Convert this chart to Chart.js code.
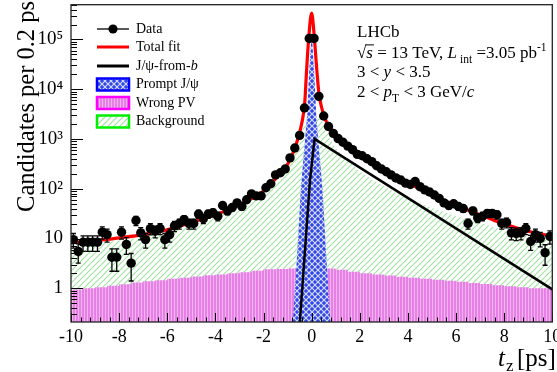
<!DOCTYPE html>
<html><head><meta charset="utf-8">
<script src="https://cdn.jsdelivr.net/npm/chart.js@4.4.1/dist/chart.umd.min.js"></script>
<style>html,body{margin:0;padding:0;background:#fff;}#wrap{width:557px;height:372px;position:relative;}</style>
</head><body><div id="wrap"><canvas id="c"></canvas></div>
<script>
const SERIF = "'Liberation Serif', 'Times New Roman', serif";

// ---- data ----
const binCenters = [-9.9,-9.7,-9.5,-9.3,-9.1,-8.9,-8.7,-8.5,-8.3,-8.1,-7.9,-7.7,-7.5,-7.3,-7.1,-6.9,-6.7,-6.5,-6.3,-6.1,-5.9,-5.7,-5.5,-5.3,-5.1,-4.9,-4.7,-4.5,-4.3,-4.1,-3.9,-3.7,-3.5,-3.3,-3.1,-2.9,-2.7,-2.5,-2.3,-2.1,-1.9,-1.7,-1.5,-1.3,-1.1,-0.9,-0.7,-0.5,-0.3,-0.1,0.1,0.3,0.5,0.7,0.9,1.1,1.3,1.5,1.7,1.9,2.1,2.3,2.5,2.7,2.9,3.1,3.3,3.5,3.7,3.9,4.1,4.3,4.5,4.7,4.9,5.1,5.3,5.5,5.7,5.9,6.1,6.3,6.5,6.7,6.9,7.1,7.3,7.5,7.7,7.9,8.1,8.3,8.5,8.7,8.9,9.1,9.3,9.5,9.7,9.9];
const candidates = [9.5,5.5,8.4,8.4,8.4,8.4,13.4,12,4.2,4.2,13.4,7.6,3.2,23,13,9.5,15.8,14,16,9.5,12,18,20,24,20,20,31,25,31,33,28,46,36,42,52,44,60,79,72,72,105,126,190,210,250,417,660,1180,4200,105000,105000,7200,2900,1780,1300,1020,860,720,610,490,460,400,350,290,250,220,190,165,150,130,122,140,110,95,86,75,64,52,46,50,44,40,20,36,26,28,32,32,30,20,21,13,12.6,13,16,8.7,12,10,5.2,11];
const candidateErrors = [3.1,2.3,2.9,2.9,2.9,2.9,3.7,3.5,2.0,2.0,3.7,2.8,1.8,4.8,3.6,3.1,4.0,3.7,4.0,3.1,3.5,4.2,4.5,4.9,4.5,4.5,5.6,5.0,5.6,5.7,5.3,6.8,6.0,6.5,7.2,6.6,7.7,8.9,8.5,8.5,10,11,14,14,16,20,26,34,65,324,324,85,54,42,36,32,29,27,25,22,21,20,19,17,16,15,14,13,12,11,11,12,10,9.7,9.3,8.7,8.0,7.2,6.8,7.1,6.6,6.3,4.5,6.0,5.1,5.3,5.7,5.7,5.5,4.5,4.6,3.6,3.5,3.6,4.0,2.9,3.5,3.2,2.3,3.3];

const totalFitT = [-10,-9,-8,-7,-6,-5,-4,-3,-2,-1.5,-1,-0.75,-0.55,-0.45,-0.35,-0.28,-0.22,-0.12,0,0.1,0.2,0.3,0.4,0.5,0.6,0.75,1,1.5,2,2.5,3,3.5,4,4.5,5,5.5,6,6.5,7,7.5,8,8.5,9,9.5,10];
const totalFitV = [8.2,9.0,10.3,12,15,21,30,48,90,160,310,560,1100,1700,3000,6000,20000,110000,340000,130000,30000,8500,4600,3100,2300,1750,1250,780,510,355,250,180,132,100,76,58,46,37,30,24,19.5,16.5,14,12.5,11];

const fromBT = [-0.5,-0.07,0.12,10];
const fromBV = [0.18,145,1000,0.95];

const promptT = [-0.8,-0.6,-0.45,-0.3,-0.2,-0.1,0,0.1,0.2,0.3,0.45,0.6,0.8];
const promptV = [0.15,5,100,700,2500,25000,140000,25000,2500,700,100,5,0.15];

const wrongPvEdges = [-10,-9.5,-9,-8.5,-8,-7.5,-7,-6.5,-6,-5.5,-5,-4.5,-4,-3.5,-3,-2.5,-2,-1.5,-1,-0.5,0,0.5,1,1.5,2,2.5,3,3.5,4,4.5,5,5.5,6,6.5,7,7.5,8,8.5,9,9.5,10];
const wrongPvV = [0.9,0.95,1.0,1.05,1.12,1.2,1.3,1.38,1.45,1.55,1.62,1.72,1.82,1.9,2.0,2.1,2.25,2.4,2.45,2.5,2.55,2.6,2.5,2.35,2.15,2.0,1.9,1.8,1.7,1.62,1.55,1.48,1.42,1.35,1.28,1.22,1.15,1.1,1.05,1.0,1.0];

const backgroundT = [-10,-9,-8,-7,-6,-5,-4,-3,-2,-1.5,-1,-0.75,-0.5,-0.3,-0.15,0,0.15,0.3,0.5,0.75,1,1.5,2,2.5,3,3.5,4,4.5,5,5.5,6,7,8,9,10];
const backgroundV = [7.3,8.0,9.1,10.7,13.5,19.3,28,46,87,155,300,540,1000,2000,3000,3400,3000,2600,2100,1050,650,370,225,155,113,83,63,51,41,34,28,21,14.5,11,9];

const xTickValues = [-10,-8,-6,-4,-2,0,2,4,6,8,10];
const xTickLabels = ['-10','-8','-6','-4','-2','0','2','4','6','8','10'];
const yTickValues = [1,10,100,1000,10000,100000];
const yTickLabels = ['1','10','10²','10³','10⁴','10⁵'];

const legendLabels = ['Data','Total fit','J/ψ-from-b','Prompt J/ψ','Wrong PV','Background'];

// ---- patterns ----
const mainCtx = document.getElementById('c').getContext('2d');
function makePattern(w, h, draw) {
  const cv = document.createElement('canvas'); cv.width = w; cv.height = h;
  draw(cv.getContext('2d'), w, h);
  return mainCtx.createPattern(cv, 'repeat');
}
const greenHatch = makePattern(6, 6, g => {
  g.fillStyle = '#ffffff'; g.fillRect(0,0,6,6);
  g.strokeStyle = '#a2e3a2'; g.lineWidth = 1.2;
  g.beginPath(); g.moveTo(-1,7); g.lineTo(7,-1); g.moveTo(-1,1); g.lineTo(1,-1); g.moveTo(5,7); g.lineTo(7,5); g.stroke();
});
const pinkPattern = makePattern(3, 3, g => {
  g.fillStyle = '#e680e5'; g.fillRect(0,0,3,3);
  g.fillStyle = '#f2b4f1'; g.fillRect(0,0,1,3);
});
const bluePattern = makePattern(6, 6, g => {
  g.fillStyle = '#3347e4'; g.fillRect(0,0,6,6);
  g.strokeStyle = '#d4dcff'; g.lineWidth = 1.2;
  g.beginPath(); g.moveTo(0,0); g.lineTo(6,6); g.moveTo(6,0); g.lineTo(0,6); g.stroke();
});

const pts = (xs, ys) => xs.map((x, i) => ({x: x, y: ys[i]}));

// ---- helpers ----
function drawRuns(c, x, y, runs, size) {
  let cx = x;
  for (const r of runs) {
    let fs = size, dy = 0;
    if (r.sub) { fs = size * 0.68; dy = size * 0.32; }
    if (r.sup) { fs = size * 0.68; dy = -size * 0.42; }
    c.font = (r.i ? 'italic ' : '') + fs + 'px ' + SERIF;
    c.fillText(r.t, cx, y + dy);
    const w = c.measureText(r.t).width;
    if (r.over) c.fillRect(cx - 1, y - size * 0.8, w + 2, 1);
    cx += w;
  }
  return cx;
}

const errorBars = {
  id: 'errorBars',
  beforeDatasetDraw(chart, args) {
    if (args.index !== 0) return;
    const xs = chart.scales.x, ys = chart.scales.y, c = chart.ctx, a = chart.chartArea;
    c.save();
    c.beginPath(); c.rect(a.left, a.top, a.right - a.left, a.bottom - a.top); c.clip();
    c.strokeStyle = '#000'; c.lineWidth = 1.3;
    binCenters.forEach((t, i) => {
      const x = xs.getPixelForValue(t);
      const hi = ys.getPixelForValue(candidates[i] + candidateErrors[i]);
      const lo = ys.getPixelForValue(Math.max(candidates[i] - candidateErrors[i], 0.05));
      c.beginPath();
      c.moveTo(x, hi); c.lineTo(x, lo);
      c.moveTo(x - 2.5, hi); c.lineTo(x + 2.5, hi);
      c.moveTo(x - 2.5, lo); c.lineTo(x + 2.5, lo);
      c.stroke();
    });
    c.restore();
  }
};

const frameAndTicks = {
  id: 'frameAndTicks',
  afterDatasetsDraw(chart) {
    const xs = chart.scales.x, ys = chart.scales.y, c = chart.ctx, a = chart.chartArea;
    c.save();
    c.strokeStyle = '#000'; c.lineWidth = 1;
    c.beginPath();
    for (let k = -1; k <= 5; k++) {
      for (let m = 1; m <= 9; m++) {
        const v = m * Math.pow(10, k);
        if (v < ys.min || v > ys.max) continue;
        const y = Math.round(ys.getPixelForValue(v)) + 0.5;
        const len = m === 1 ? 12 : 6;
        c.moveTo(a.left, y); c.lineTo(a.left + len, y);
      }
    }
    for (let i = 0; i <= 50; i++) {
      const t = -10 + 0.4 * i;
      const x = Math.round(xs.getPixelForValue(t)) + 0.5;
      const len = i % 5 === 0 ? 9 : 4.5;
      c.moveTo(x, a.bottom); c.lineTo(x, a.bottom - len);
    }
    c.stroke();
    c.strokeStyle = '#222'; c.lineWidth = 1.3;
    c.strokeRect(a.left, a.top, a.right - a.left, a.bottom - a.top);
    c.restore();
  },
  afterDraw(chart) {
    const c = chart.ctx;
    c.save();
    c.fillStyle = '#000';
    // y title
    c.save();
    c.translate(34, 1); c.rotate(-Math.PI / 2);
    c.textAlign = 'right'; c.textBaseline = 'alphabetic';
    c.font = '24.5px ' + SERIF;
    c.fillText('Candidates per 0.2 ps', 0, 0);
    c.restore();
    // x title
    c.textAlign = 'left'; c.textBaseline = 'alphabetic';
    drawRuns(c, 498, 366, [{t: 't', i: 1}], 25);
    drawRuns(c, 506, 371, [{t: 'z', i: 0}], 17);
    drawRuns(c, 517, 366, [{t: '[ps]'}], 25);
    // LHCb block
    const fs = 17;
    drawRuns(c, 357, 37, [{t: 'LHCb'}], fs);
    drawRuns(c, 357, 58, [{t: '√'}, {t: 's', i: 1, over: 1}, {t: ' = 13 TeV, '}, {t: 'L', i: 1}, {t: ' int', sub: 1}, {t: ' =3.05 pb'}, {t: '-1', sup: 1}], fs);
    drawRuns(c, 357, 77, [{t: '3 < '}, {t: 'y', i: 1}, {t: ' < 3.5'}], fs);
    drawRuns(c, 357, 97, [{t: '2 < '}, {t: 'p', i: 1}, {t: 'T', sub: 1}, {t: ' < 3 GeV/'}, {t: 'c', i: 1}], fs);
    // legend
    const rows = [29, 47, 66, 84.5, 103, 121.5];
    const lx0 = 97, lx1 = 129, tx = 136;
    c.lineCap = 'butt';
    c.strokeStyle = '#000'; c.lineWidth = 1.3;
    c.beginPath(); c.moveTo(lx0, rows[0]); c.lineTo(lx1, rows[0]); c.stroke();
    c.beginPath(); c.arc(113, rows[0], 4.6, 0, Math.PI * 2); c.fill();
    c.strokeStyle = '#ff0000'; c.lineWidth = 3;
    c.beginPath(); c.moveTo(lx0, rows[1]); c.lineTo(lx1, rows[1]); c.stroke();
    c.strokeStyle = '#000'; c.lineWidth = 3;
    c.beginPath(); c.moveTo(lx0, rows[2]); c.lineTo(lx1, rows[2]); c.stroke();
    const boxes = [[bluePattern, '#0000ff'], [pinkPattern, '#ff00ff'], [greenHatch, '#00ee00']];
    boxes.forEach((b, k) => {
      const yc = rows[3 + k];
      c.fillStyle = b[0]; c.fillRect(97, yc - 6, 32, 12);
      c.strokeStyle = b[1]; c.lineWidth = 2.5; c.strokeRect(97, yc - 6, 32, 12);
    });
    c.fillStyle = '#000'; c.textBaseline = 'middle';
    const lf = 14;
    drawRuns(c, tx, rows[0], [{t: legendLabels[0]}], lf);
    drawRuns(c, tx, rows[1], [{t: legendLabels[1]}], lf);
    drawRuns(c, tx, rows[2], [{t: 'J/ψ-from-'}, {t: 'b', i: 1}], lf);
    drawRuns(c, tx, rows[3], [{t: legendLabels[3]}], lf);
    drawRuns(c, tx, rows[4], [{t: legendLabels[4]}], lf);
    drawRuns(c, tx, rows[5], [{t: legendLabels[5]}], lf);
    c.restore();
  }
};

new Chart(mainCtx, {
  type: 'line',
  data: {
    datasets: [
      { label: legendLabels[0], data: pts(binCenters, candidates), showLine: false, pointRadius: 4.7, pointHoverRadius: 4.7,
        pointBackgroundColor: '#000', pointBorderColor: '#000', pointBorderWidth: 0, order: 1 },
      { label: legendLabels[1], data: pts(totalFitT, totalFitV), borderColor: '#ff0000', borderWidth: 3.2, pointRadius: 0,
        cubicInterpolationMode: 'monotone', fill: false, order: 2 },
      { label: legendLabels[2], data: pts(fromBT, fromBV), borderColor: '#000', borderWidth: 2.5, pointRadius: 0, fill: false, order: 3 },
      { label: legendLabels[3], data: pts(promptT, promptV), borderColor: 'rgba(0,0,0,0)', borderWidth: 0, backgroundColor: bluePattern,
        fill: 'start', pointRadius: 0, order: 4 },
      { label: legendLabels[4], data: pts(wrongPvEdges, wrongPvV), stepped: 'after', borderColor: 'rgba(0,0,0,0)', borderWidth: 0,
        backgroundColor: pinkPattern, fill: 'start', pointRadius: 0, order: 5 },
      { label: legendLabels[5], data: pts(backgroundT, backgroundV), borderColor: 'rgba(0,0,0,0)', borderWidth: 0,
        backgroundColor: greenHatch, fill: 'start', pointRadius: 0, order: 6 }
    ]
  },
  options: {
    responsive: true, maintainAspectRatio: false, animation: false, devicePixelRatio: 1,
    layout: { padding: { top: 3, right: 1.5, left: 0, bottom: 0 } },
    plugins: { legend: { display: false }, tooltip: { enabled: false } },
    events: [],
    scales: {
      x: {
        type: 'linear', min: -10, max: 10,
        afterBuildTicks: s => { s.ticks = xTickValues.map(v => ({value: v})); },
        ticks: { callback: (v, i) => xTickLabels[i], font: { family: SERIF, size: 18 }, color: '#000', padding: 4, maxRotation: 0, autoSkip: false },
        grid: { display: false, drawTicks: false }, border: { display: false },
        afterFit: s => { s.height = 50; s.paddingLeft = 0; s.paddingRight = 0; }
      },
      y: {
        type: 'logarithmic', min: 0.21, max: 5e5,
        afterBuildTicks: s => { s.ticks = yTickValues.map(v => ({value: v})); },
        ticks: { callback: (v, i) => yTickLabels[i], font: { family: SERIF, size: 19 }, color: '#000', padding: 8, autoSkip: false },
        grid: { display: false, drawTicks: false }, border: { display: false },
        afterFit: s => { s.width = 71; s.paddingTop = 0; s.paddingBottom = 0; }
      }
    }
  },
  plugins: [errorBars, frameAndTicks]
});
</script>
</body></html>
